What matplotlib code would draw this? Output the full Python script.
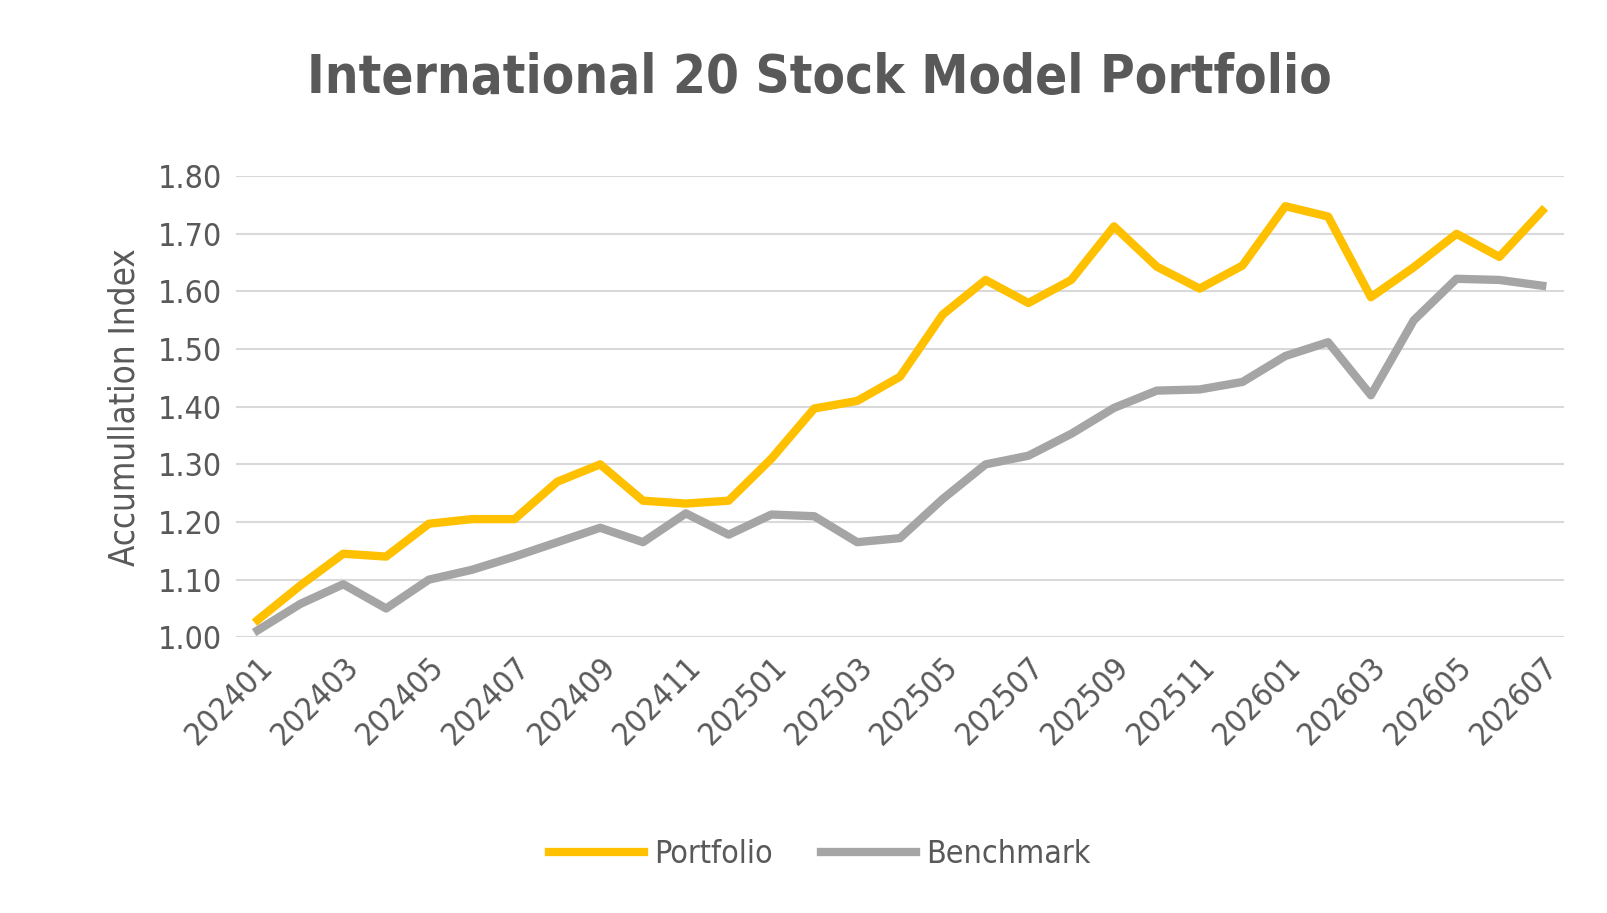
import matplotlib.pyplot as plt

plt.rcParams['font.family'] = ['DejaVu Sans']
plt.rcParams['font.stretch'] = 'condensed'

months = []
for y in (2024, 2025, 2026):
    for m in range(1, 13):
        months.append(f"{y}{m:02d}")
months = months[:31]

portfolio = [1.03, 1.09, 1.145, 1.14, 1.197, 1.205, 1.205, 1.27, 1.30, 1.237,
             1.232, 1.237, 1.31, 1.397, 1.41, 1.452, 1.56, 1.62, 1.58, 1.62,
             1.713, 1.643, 1.605, 1.645, 1.748, 1.73, 1.59, 1.642, 1.70, 1.66, 1.74]
benchmark = [1.012, 1.058, 1.092, 1.05, 1.10, 1.117, 1.14, 1.165, 1.19, 1.165,
             1.215, 1.178, 1.213, 1.21, 1.165, 1.172, 1.24, 1.30, 1.315, 1.353,
             1.398, 1.428, 1.43, 1.443, 1.488, 1.512, 1.42, 1.55, 1.622, 1.62, 1.61]

grey = '#595959'
fig = plt.figure(figsize=(16.07, 9.13), dpi=100)
ax = fig.add_axes([0.147, 0.302, 0.826, 0.505])
x = range(len(months))
ax.plot(x, portfolio, color='#FFC000', lw=6, label='Portfolio', clip_on=False, zorder=3)
ax.plot(x, benchmark, color='#A5A5A5', lw=6, label='Benchmark', clip_on=False, zorder=3)

ax.set_xlim(-0.5, len(months) - 0.5)
ax.set_ylim(1.0, 1.8)
ax.set_yticks([1.0 + 0.1 * i for i in range(9)])
ax.set_yticklabels([f"{1.0 + 0.1 * i:.2f}" for i in range(9)])
ax.set_xticks(list(x)[::2])
ax.set_xticklabels(months[::2], rotation=45, ha='right', rotation_mode='anchor')
ax.tick_params(axis='both', labelsize=23, colors=grey, length=0, pad=10)
ax.grid(axis='y', color='#D9D9D9', lw=1.5)
ax.set_axisbelow(True)
for s in ax.spines.values():
    s.set_visible(False)
ax.axhline(1.0, color='#D9D9D9', lw=1.5, zorder=1)
ax.set_ylabel('Accumullation Index', fontsize=25, color=grey, labelpad=12)

fig.text(0.51, 0.915, 'International 20 Stock Model Portfolio', fontsize=38,
         fontweight='bold', color=grey, ha='center', va='center')
fig.legend(loc='center', bbox_to_anchor=(0.51, 0.064), ncol=2, frameon=False,
           fontsize=23, labelcolor=grey, handlelength=3, columnspacing=1.5,
           handletextpad=0.3)

fig.savefig('out.png', dpi=100)
